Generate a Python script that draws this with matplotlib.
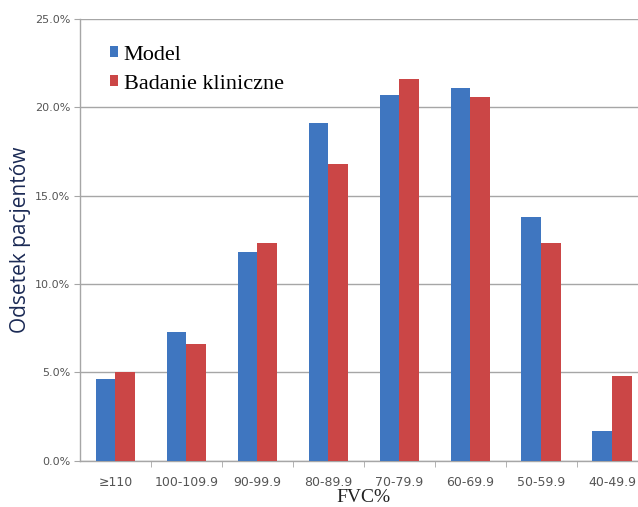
import matplotlib.pyplot as plt
import matplotlib.ticker as plticker
import numpy as np

categories = ['≥110', '100-109.9', '90-99.9', '80-89.9', '70-79.9', '60-69.9', '50-59.9', '40-49.9']
model = [4.6, 7.3, 11.8, 19.1, 20.7, 21.1, 13.8, 1.7]
badanie = [5.0, 6.6, 12.3, 16.8, 21.6, 20.6, 12.3, 4.8]

blue = '#3F76C0'
red = '#CB4646'
grid_c = '#A6A6A6'

fig = plt.figure(figsize=(6.38, 5.07), dpi=100)
ax = fig.add_axes([0.1254, 0.0913, 0.890, 0.8712])

x = np.arange(len(categories))
w = 0.28
ax.bar(x - w / 2, model, width=w, color=blue, label='Model', zorder=3)
ax.bar(x + w / 2, badanie, width=w, color=red, label='Badanie kliniczne', zorder=3)

ax.set_xlim(-0.5, len(categories) - 0.5)
ax.set_ylim(0, 25)
ax.yaxis.set_major_locator(plticker.MultipleLocator(5))
ax.yaxis.set_major_formatter(plticker.FuncFormatter(lambda v, p: f'{v:.1f}%'))
ax.grid(axis='y', color=grid_c, linewidth=1.0, zorder=0)

ax.set_xticks(x)
ax.set_xticklabels(categories)
ax.set_xticks(np.arange(0.5, len(categories) - 0.5, 1), minor=True)
ax.tick_params(axis='x', which='major', length=0, pad=11, labelsize=9, labelcolor='#555555')
ax.tick_params(axis='x', which='minor', length=4, color=grid_c, direction='out')
ax.tick_params(axis='y', length=4, color=grid_c, labelsize=8, labelcolor='#555555', pad=3)

for s in ['top', 'right']:
    ax.spines[s].set_visible(False)
for s in ['left', 'bottom']:
    ax.spines[s].set_color(grid_c)
    ax.spines[s].set_linewidth(1.0)

ax.set_ylabel('Odsetek pacjentów', fontsize=15, color='#1B2A55', family='Open Sans')
ax.yaxis.set_label_coords(-0.086, 0.5)
ax.set_xlabel('FVC%', fontsize=14, color='#222222', family='Liberation Serif', labelpad=0)

leg = ax.legend(loc='upper left', bbox_to_anchor=(0.017, 0.985), frameon=False,
                prop={'family': 'Liberation Serif', 'size': 16},
                handlelength=0.38, handleheight=0.38, handletextpad=0.25, labelspacing=0.45)

fig.savefig('out.png', dpi=100)
